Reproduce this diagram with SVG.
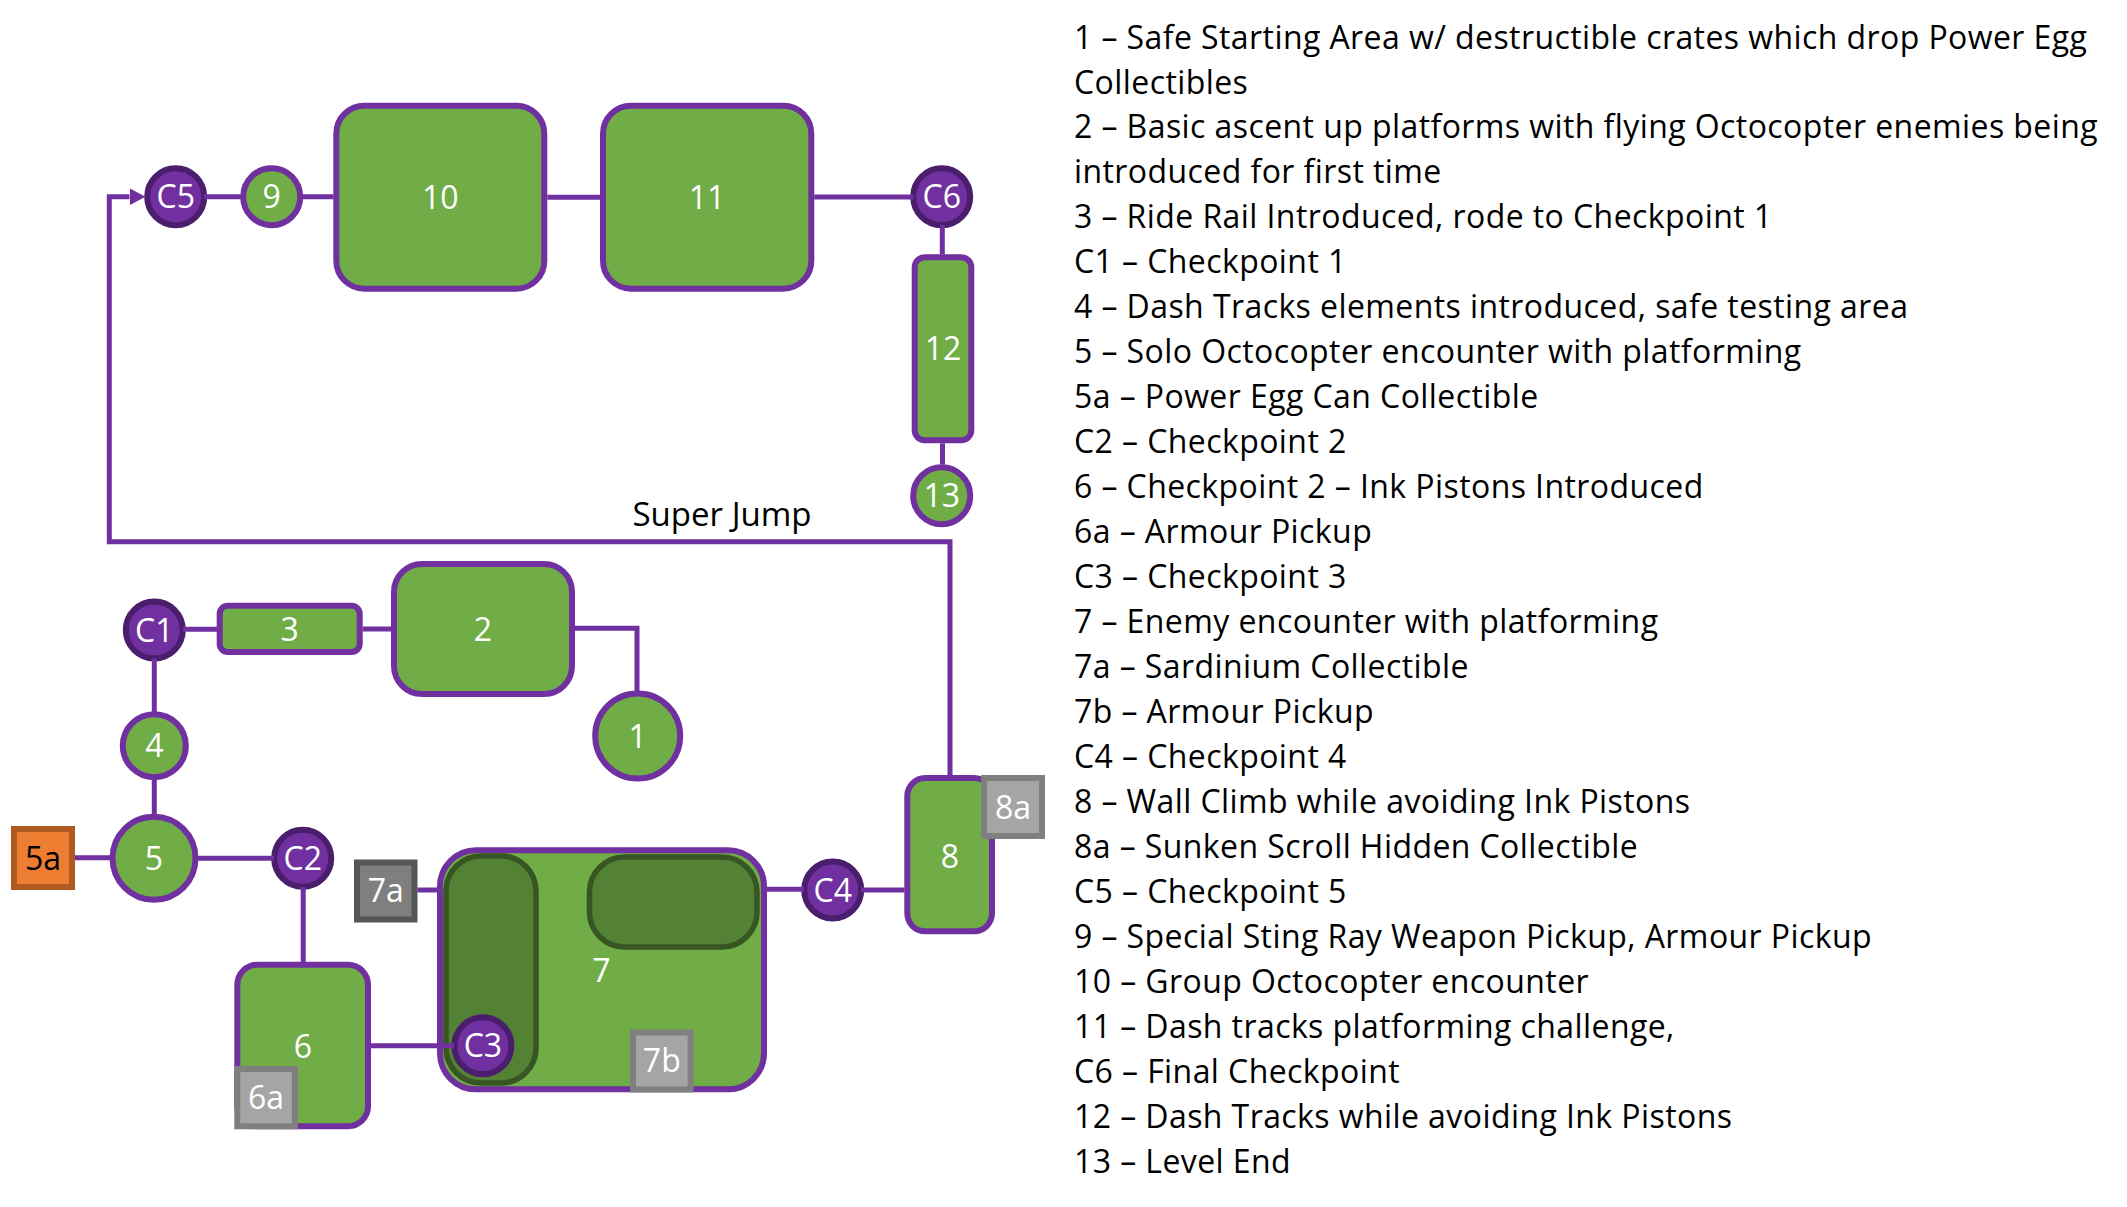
<svg xmlns="http://www.w3.org/2000/svg" width="2127" height="1207" viewBox="0 0 2127 1207">
<defs>
<style>
.g{fill:#70AD47;stroke:#7030A0;stroke-width:6}
.c{fill:#7030A0;stroke:#4A1E6C;stroke-width:6}
.dk{fill:#548235;stroke:#375623;stroke-width:5.5}
.lg{fill:#A5A5A5;stroke:#7F7F7F;stroke-width:6}
.dg{fill:#7F7F7F;stroke:#565656;stroke-width:6}
.or{fill:#ED7D31;stroke:#AE5A21;stroke-width:6}
.t{font-family:"Open Sans",Lato,"Liberation Sans",sans-serif;font-size:32px;fill:#FFFFFF;text-anchor:middle}
.tb{fill:#000000}
.sj{font-size:33px}
.lgd{font-family:"Open Sans",Lato,"Liberation Sans",sans-serif;font-size:32px;letter-spacing:0.42px;fill:#000000}
.ln{fill:none;stroke:#7030A0;stroke-width:5}
</style>
<marker id="arr" viewBox="0 0 16 17" refX="0" refY="8.5" markerWidth="16" markerHeight="17" markerUnits="userSpaceOnUse" orient="auto">
<path d="M0,0 L16,8.5 L0,17 z" fill="#7030A0"/>
</marker>
</defs>
<rect width="2127" height="1207" fill="#FFFFFF"/>

<g id="n10"><rect class="g" x="336.3" y="105.7" width="208" height="183" rx="28"/><text class="t" x="440.3" y="208.5">10</text></g>
<g id="n11"><rect class="g" x="603" y="105.7" width="208.3" height="183" rx="28"/><text class="t" x="707" y="208.5">11</text></g>
<g id="nC5"><circle class="c" cx="175.7" cy="196.7" r="28.5"/><text class="t" x="175.7" y="208.2">C5</text></g>
<g id="n9"><circle class="g" cx="271.7" cy="196.7" r="28.5"/><text class="t" x="271.7" y="208.2">9</text></g>
<g id="nC6"><circle class="c" cx="941.7" cy="196.7" r="28.5"/><text class="t" x="941.7" y="208.2">C6</text></g>
<g id="n12"><rect class="g" x="914.7" y="257.3" width="56.6" height="183" rx="10"/><text class="t" x="943" y="360.3">12</text></g>
<g id="n13"><circle class="g" cx="941.7" cy="495.7" r="28.5"/><text class="t" x="941.7" y="507.2">13</text></g>

<g id="nC1"><circle class="c" cx="154.3" cy="630" r="28.5"/><text class="t" x="154.3" y="641.5">C1</text></g>
<g id="n3"><rect class="g" x="219.7" y="605.7" width="140" height="46.3" rx="8"/><text class="t" x="289.7" y="640.5">3</text></g>
<g id="n2"><rect class="g" x="394" y="564" width="178" height="130" rx="28"/><text class="t" x="483" y="640.5">2</text></g>
<g id="n1"><circle class="g" cx="637.7" cy="736" r="42.5"/><text class="t" x="637.7" y="747.5">1</text></g>
<g id="n4"><circle class="g" cx="154.3" cy="745.7" r="31.5"/><text class="t" x="154.3" y="757.2">4</text></g>
<g id="n5"><circle class="g" cx="154" cy="858.3" r="41.5"/><text class="t" x="154" y="869.8">5</text></g>
<g id="n5a"><rect class="or" x="14" y="829" width="58" height="58"/><text class="t tb" x="43" y="869.5">5a</text></g>
<g id="nC2"><circle class="c" cx="302.7" cy="858.3" r="28.5"/><text class="t" x="302.7" y="869.8">C2</text></g>
<g id="n6"><rect class="g" x="237.3" y="964.7" width="130.7" height="161.6" rx="20"/><text class="t" x="303" y="1058.2">6</text></g>
<g id="n6a"><rect class="lg" x="237.3" y="1069" width="57.6" height="57.3"/><text class="t" x="266" y="1109.2">6a</text></g>
<g id="n7"><rect class="g" x="440" y="850.3" width="324" height="239" rx="36"/>
<rect class="dk" x="446" y="856" width="90" height="227" rx="35"/>
<rect class="dk" x="589.5" y="857" width="167.5" height="90" rx="35"/>
<text class="t" x="601.4" y="981.5">7</text></g>
<g id="n7a"><rect class="dg" x="357" y="862.5" width="57.5" height="57"/><text class="t" x="385.7" y="902.3">7a</text></g>
<g id="n7b"><rect class="lg" x="633" y="1032.5" width="57.6" height="57"/><text class="t" x="661.8" y="1072.3">7b</text></g>
<g id="nC3"><circle class="c" cx="482.9" cy="1045.7" r="28.5"/><text class="t" x="482.9" y="1057.2">C3</text></g>
<g id="nC4"><circle class="c" cx="832.7" cy="890" r="28.5"/><text class="t" x="832.7" y="901.5">C4</text></g>
<g id="n8"><rect class="g" x="907.3" y="778" width="84.7" height="153.3" rx="18"/><text class="t" x="950" y="868.2">8</text></g>
<g id="n8a"><rect class="lg" x="984" y="778" width="58" height="58"/><text class="t" x="1013" y="818.5">8a</text></g>

<g id="connectors">
<path class="ln" d="M950,776 V541.7 H109.3 V196.7 H129.5" marker-end="url(#arr)"/>
<path class="ln" d="M204,196.7 H243"/>
<path class="ln" d="M300,196.7 H333.5"/>
<path class="ln" d="M547.3,197.3 H600"/>
<path class="ln" d="M814.3,197 H913"/>
<path class="ln" d="M942.3,225 V254.5"/>
<path class="ln" d="M942.5,443.3 V464.5"/>
<path class="ln" d="M183,629.3 H217"/>
<path class="ln" d="M362.7,629 H391"/>
<path class="ln" d="M575,628.3 H637 V693.5"/>
<path class="ln" d="M154.3,658.5 V714.5"/>
<path class="ln" d="M154.3,777 V817"/>
<path class="ln" d="M75,857.7 H112.5"/>
<path class="ln" d="M195.5,858.3 H274"/>
<path class="ln" d="M303.2,887 V962"/>
<path class="ln" d="M371,1045.7 H454"/>
<path class="ln" d="M417.5,890 H437.5"/>
<path class="ln" d="M767,889.3 H804"/>
<path class="ln" d="M861,890 H904.5"/>
</g>

<text class="t tb sj" x="722" y="526">Super Jump</text>

<g id="legend" class="lgd">
<text x="1074" y="48.5">1 – Safe Starting Area w/ destructible crates which drop Power Egg</text>
<text x="1074" y="93.5">Collectibles</text>
<text x="1074" y="138.4">2 – Basic ascent up platforms with flying Octocopter enemies being</text>
<text x="1074" y="183.4">introduced for first time</text>
<text x="1074" y="228.3">3 – Ride Rail Introduced, rode to Checkpoint 1</text>
<text x="1074" y="273.3">C1 – Checkpoint 1</text>
<text x="1074" y="318.3">4 – Dash Tracks elements introduced, safe testing area</text>
<text x="1074" y="363.2">5 – Solo Octocopter encounter with platforming</text>
<text x="1074" y="408.2">5a – Power Egg Can Collectible</text>
<text x="1074" y="453.1">C2 – Checkpoint 2</text>
<text x="1074" y="498.1">6 – Checkpoint 2 – Ink Pistons Introduced</text>
<text x="1074" y="543">6a – Armour Pickup</text>
<text x="1074" y="588">C3 – Checkpoint 3</text>
<text x="1074" y="633">7 – Enemy encounter with platforming</text>
<text x="1074" y="677.9">7a – Sardinium Collectible</text>
<text x="1074" y="722.9">7b – Armour Pickup</text>
<text x="1074" y="767.8">C4 – Checkpoint 4</text>
<text x="1074" y="812.8">8 – Wall Climb while avoiding Ink Pistons</text>
<text x="1074" y="857.7">8a – Sunken Scroll Hidden Collectible</text>
<text x="1074" y="902.7">C5 – Checkpoint 5</text>
<text x="1074" y="947.7">9 – Special Sting Ray Weapon Pickup, Armour Pickup</text>
<text x="1074" y="992.6">10 – Group Octocopter encounter</text>
<text x="1074" y="1037.6">11 – Dash tracks platforming challenge,</text>
<text x="1074" y="1082.5">C6 – Final Checkpoint</text>
<text x="1074" y="1127.5">12 – Dash Tracks while avoiding Ink Pistons</text>
<text x="1074" y="1172.5">13 – Level End</text>
</g>
</svg>
